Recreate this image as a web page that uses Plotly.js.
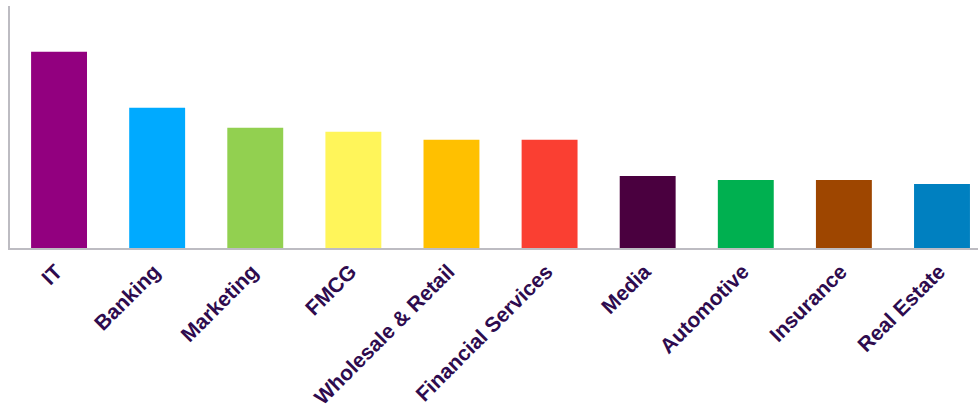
<!DOCTYPE html>
<html>
<head>
<meta charset="utf-8">
<script src="https://cdn.plot.ly/plotly-3.0.1.min.js"></script>
<style>html,body{margin:0;padding:0;background:#fff;}#chart{width:978px;height:408px;}</style>
</head>
<body>
<div id="chart"></div>
<script>
const categories = ["IT", "Banking", "Marketing", "FMCG", "Wholesale & Retail", "Financial Services", "Media", "Automotive", "Insurance", "Real Estate"];
const values = [49, 35, 30, 29, 27, 27, 18, 17, 17, 16];
const colors = ["#92007F", "#00AAFF", "#92D050", "#FFF55A", "#FFC000", "#FA3F32", "#4A003F", "#00B050", "#9E4600", "#0080C0"];

const trace = {
  type: "bar",
  x: categories,
  y: values,
  marker: {color: colors, line: {width: 0}},
  hoverinfo: "x+y"
};

const layout = {
  width: 978,
  height: 408,
  margin: {l: 10, r: 0, t: 6, b: 160, pad: 0},
  paper_bgcolor: "#ffffff",
  plot_bgcolor: "#ffffff",
  bargap: 0.43,
  showlegend: false,
  xaxis: {
    type: "category",
    range: [-0.5, 9.367],
    showline: true,
    linecolor: "#BDBCC2",
    linewidth: 2,
    ticks: "",
    tickangle: -45,
    ticklabelshift: -3,
    ticklabelstandoff: 1,
    tickfont: {family: "Liberation Sans, Arial, sans-serif", size: 21, color: "#2E0B4E", weight: "bold"},
    showgrid: false,
    zeroline: false,
    fixedrange: true
  },
  yaxis: {
    range: [0, 60.4],
    showline: true,
    linecolor: "#BDBCC2",
    linewidth: 2,
    showticklabels: false,
    ticks: "",
    showgrid: false,
    zeroline: false,
    fixedrange: true
  }
};

Plotly.newPlot("chart", [trace], layout, {displayModeBar: false, staticPlot: true});
</script>
</body>
</html>
